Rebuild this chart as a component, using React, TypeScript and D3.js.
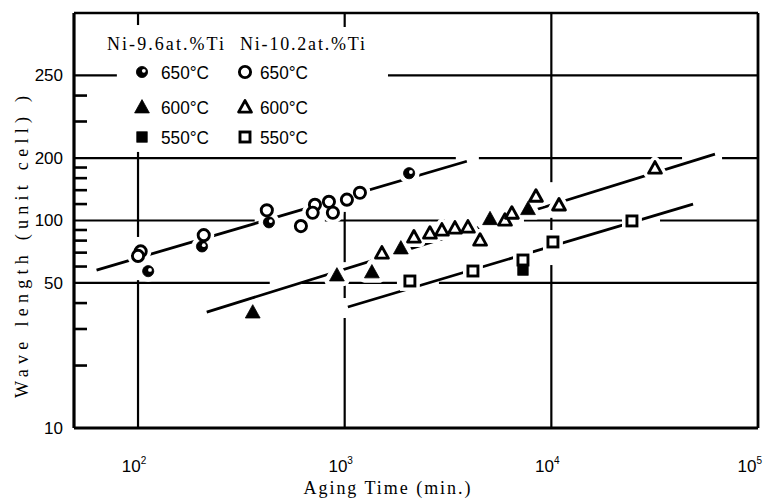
import React from 'react';
import * as d3 from 'd3';

const W = 764;
const H = 498;

// aging time (min), wave length (unit cell)
const ni96_650 = [[112, 57], [204, 75], [430, 98], [2050, 169]];
const ni102_650 = [[103, 71], [100, 67.5], [208, 85], [420, 112], [614, 94], [718, 119], [700, 109], [839, 123], [877, 109], [1025, 126], [1185, 136]];
const ni96_600 = [[359, 36.2], [917, 54.6], [1354, 56.5], [1870, 73.7], [5050, 102], [7710, 114]];
const ni102_600 = [[1514, 69.7], [2163, 83.3], [2585, 87], [2954, 90], [3416, 92], [3948, 93], [4520, 80.5], [5964, 100.5], [6440, 108.6], [8425, 131], [10890, 119], [31730, 179]];
const ni96_550 = [[7290, 57.7]];
const ni102_550 = [[2068, 51.1], [4175, 57.1], [7290, 64.5], [10180, 78.8], [24550, 99.5]];

// fitted lines, end points
const fit650 = [[63, 57.7], [3900, 193]];
const fit600 = [[215, 36.2], [61900, 209]];
const fit550 = [[1036, 38.3], [48500, 120]];

const yTicks = [10, 50, 100, 200, 500];
const yTickLabels = ['10', '50', '100', '200', '250'];
const yMinor = [20, 30, 40, 60, 70, 80, 90, 120, 140, 160, 180, 300, 400];
const xTicks = [100, 1000, 10000, 100000];
const xTickExp = ['2', '3', '4', '5'];

// broken grid lines (pieces in data units)
const hGrid = [
  { v: 500, pieces: [[49, 79], [1620, 1e5]] },
  { v: 200, pieces: [[49, 3450], [4460, 42900], [67000, 1e5]] },
  { v: 100, pieces: [[49, 367], [802, 3055], [7370, 22700], [33570, 1e5]] },
  { v: 50, pieces: [[49, 434], [621, 1790], [2858, 1e5]] },
];
const vGrid = [
  { v: 100, pieces: [[875, 1000], [83.3, 214], [10, 51.6]] },
  { v: 1000, pieces: [[856, 1000], [63, 110], [42.3, 52.8], [10, 33.9]] },
  { v: 10000, pieces: [[153, 1000], [90, 103], [10, 61]] },
];

const legendCols = ['Ni-9.6at.%Ti', 'Ni-10.2at.%Ti'];
const legendRows = ['650°C', '600°C', '550°C'];

const x = d3.scaleLog().domain([49, 1e5]).range([74, 758]);
const y = d3.scaleLog().domain([10, 1000]).range([428, 13]);

const serif = '"Liberation Serif", "DejaVu Serif", serif';
const sans = '"Liberation Sans", Arial, sans-serif';

function Marker({ kind, cx, cy, halo }) {
  const extra = halo ? 7 : 0;
  const stroke = halo ? '#fff' : '#000';
  const open = kind.endsWith('Open');
  const fill = halo ? '#fff' : open ? '#fff' : '#000';
  const sw = (open || halo ? 2.9 : 0.8) + extra;
  if (kind.startsWith('circle')) {
    return (
      <g>
        <circle cx={cx} cy={cy} r={5.6} fill={fill} stroke={stroke} strokeWidth={sw} />
        {kind === 'circleHalf' && !halo && (
          <circle cx={cx + 1.8} cy={cy - 1.2} r={1.9} fill="#fff" />
        )}
      </g>
    );
  }
  if (kind.startsWith('tri')) {
    const s = open ? 6.4 : 7.4;
    const d = `M${cx},${cy - s}L${cx + s},${cy + s * 0.8}L${cx - s},${cy + s * 0.8}Z`;
    return <path d={d} fill={fill} stroke={stroke} strokeWidth={sw} strokeLinejoin="round" />;
  }
  const s = open ? 5 : 5.2;
  return <rect x={cx - s} y={cy - s} width={2 * s} height={2 * s} fill={fill} stroke={stroke} strokeWidth={sw} />;
}

const series = [
  { data: ni96_650, kind: 'circleHalf' },
  { data: ni102_650, kind: 'circleOpen' },
  { data: ni96_600, kind: 'triFilled' },
  { data: ni102_600, kind: 'triOpen' },
  { data: ni96_550, kind: 'sqFilled' },
  { data: ni102_550, kind: 'sqOpen' },
];
const legendKinds = [
  ['circleHalf', 'circleOpen'],
  ['triFilled', 'triOpen'],
  ['sqFilled', 'sqOpen'],
];

export default function App() {
  const line = d3.line().x(d => x(d[0])).y(d => y(d[1]));
  const legendX = [142, 245];
  const legendTextX = [161, 260];
  const rowY = [72, 107, 137];

  return (
    <svg width={W} height={H} style={{ position: 'absolute', left: 0, top: 0, background: '#fff' }}>
      <rect width={W} height={H} fill="#fff" />

      {/* grid pieces */}
      {hGrid.map(g => g.pieces.map((p, i) => (
        <line key={`h${g.v}-${i}`} x1={x(p[0])} x2={x(p[1])} y1={y(g.v)} y2={y(g.v)} stroke="#000" strokeWidth={2.2} />
      )))}
      {vGrid.map(g => g.pieces.map((p, i) => (
        <line key={`v${g.v}-${i}`} x1={x(g.v)} x2={x(g.v)} y1={y(p[0])} y2={y(p[1])} stroke="#000" strokeWidth={2.2} />
      )))}

      {/* minor ticks */}
      {yMinor.map(v => (
        <line key={`m${v}`} x1={x.range()[0]} x2={x.range()[0] + 13} y1={y(v)} y2={y(v)} stroke="#000" strokeWidth={2.6} />
      ))}

      {/* fitted lines */}
      {[fit650, fit600, fit550].map((f, i) => (
        <path key={`f${i}`} d={line(f)} fill="none" stroke="#000" strokeWidth={2.8} />
      ))}

      {/* halos then markers */}
      {series.map((s, i) => s.data.map((d, j) => (
        <Marker key={`hl${i}-${j}`} kind={s.kind} cx={x(d[0])} cy={y(d[1])} halo />
      )))}
      {series.map((s, i) => s.data.map((d, j) => (
        <Marker key={`mk${i}-${j}`} kind={s.kind} cx={x(d[0])} cy={y(d[1])} />
      )))}

      {/* frame */}
      <line x1={x.range()[0]} x2={x.range()[0]} y1={y.range()[1]} y2={y.range()[0]} stroke="#000" strokeWidth={3.2} />
      <line x1={x.range()[0]} x2={x.range()[1]} y1={y.range()[1]} y2={y.range()[1]} stroke="#000" strokeWidth={2.4} />
      <line x1={x.range()[1]} x2={x.range()[1]} y1={y.range()[1]} y2={y.range()[0]} stroke="#000" strokeWidth={2.8} />
      <line x1={x.range()[0]} x2={x.range()[1]} y1={y.range()[0]} y2={y.range()[0]} stroke="#000" strokeWidth={2.8} />

      {/* y tick labels */}
      {yTicks.map((v, i) => (
        <text key={`yl${v}`} x={63} y={y(v)} dy="0.35em" textAnchor="end" fontFamily={sans} fontSize={17}>
          {yTickLabels[i]}
        </text>
      ))}

      {/* x tick labels */}
      {xTicks.map((v, i) => {
        const last = i === xTicks.length - 1;
        return (
          <text key={`xl${v}`} x={last ? 762 : x(v) - 4} y={472} textAnchor={last ? 'end' : 'middle'} fontFamily={sans} fontSize={17}>
            10<tspan fontSize={10} dy={-8}>{xTickExp[i]}</tspan>
          </text>
        );
      })}

      {/* axis titles */}
      <text x={387} y={494} textAnchor="middle" fontFamily={serif} fontSize={18} textLength={167} lengthAdjust="spacing">
        Aging Time (min.)
      </text>
      <text transform="translate(24,247) rotate(-90)" textAnchor="middle" dominantBaseline="middle" fontFamily={serif} fontSize={18} textLength={302} lengthAdjust="spacing">
        Wave length (unit cell) )
      </text>

      {/* legend */}
      {legendCols.map((c, i) => (
        <text key={`lc${i}`} x={i === 0 ? 107 : 240} y={50} fontFamily={serif} fontSize={18} textLength={i === 0 ? 117 : 125} lengthAdjust="spacing">
          {c}
        </text>
      ))}
      {legendRows.map((r, ri) => legendX.map((lx, ci) => (
        <g key={`lg${ri}-${ci}`}>
          <Marker kind={legendKinds[ri][ci]} cx={lx} cy={rowY[ri]} />
          <text x={legendTextX[ci]} y={rowY[ri]} dy="0.36em" fontFamily={sans} fontSize={19} textLength={48} lengthAdjust="spacingAndGlyphs">
            {r}
          </text>
        </g>
      )))}
    </svg>
  );
}
